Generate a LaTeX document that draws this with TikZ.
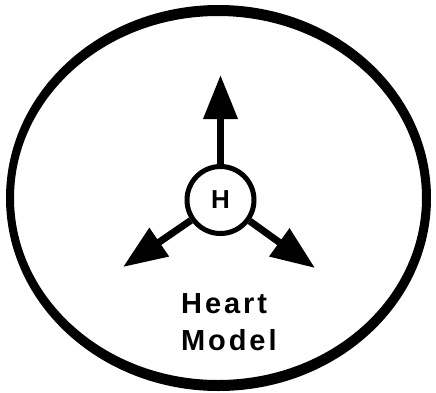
\documentclass[tikz,border=0pt]{standalone}
\usepackage{fontspec}
\setmainfont{Liberation Sans}
\newfontfamily\labelfont[LetterSpace=10]{Liberation Sans}
\usetikzlibrary{arrows.meta}

\begin{document}
\begin{tikzpicture}[x=1pt, y=-1pt,
    flow/.style={line width=7pt, -{Triangle[length=44pt, width=33pt]}},
    caption/.style={font=\labelfont\bfseries\fontsize{29}{35}\selectfont, inner sep=0pt, anchor=base west}]
    \useasboundingbox (0,0) rectangle (436,392);

    % outer boundary, thicker at top and bottom
    \fill[even odd rule] (218.5,198) ellipse [x radius=212.5, y radius=193]
                         (218,198) ellipse [x radius=204, y radius=182];

    \node[circle, draw, line width=5pt, minimum size=67pt, inner sep=0pt,
          font=\bfseries\fontsize{26}{30}\selectfont] (heart) at (220.5,200) {H};

    \coordinate (up) at (220.5,75);
    \coordinate (left) at (123,267);
    \coordinate (right) at (315,268);
    \draw[flow] (heart) -- (up);
    \draw[flow] (heart) -- (left);
    \draw[flow] (heart) -- (right);

    \node[caption] (heartlabel) at (181,313) {Heart};
    \node[caption] (modellabel) at (181,350) {Model};
\end{tikzpicture}
\end{document}
